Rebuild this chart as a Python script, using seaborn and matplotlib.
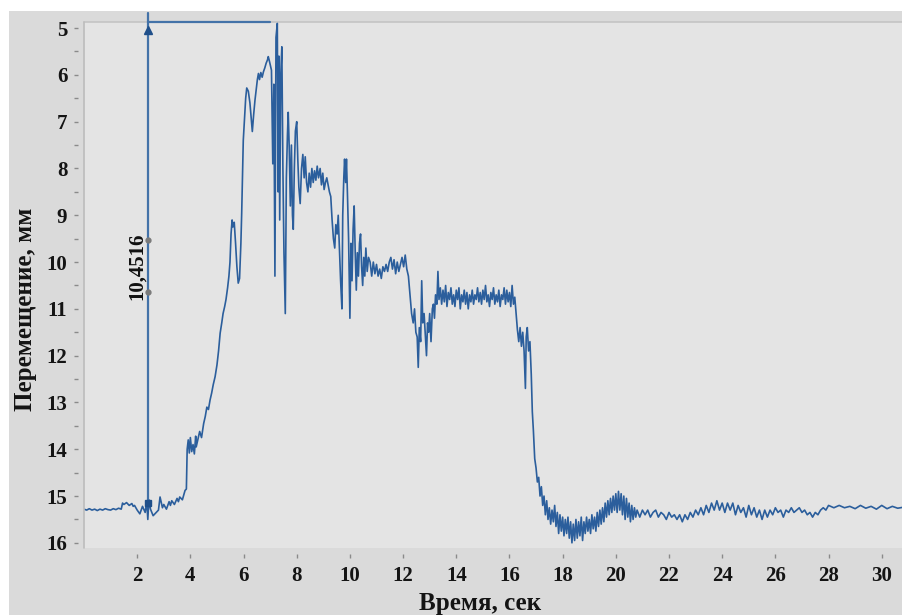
import numpy as np
import pandas as pd
import matplotlib
matplotlib.use('Agg')
import matplotlib.pyplot as plt
from matplotlib.patches import Rectangle
from matplotlib.ticker import MultipleLocator
import seaborn as sns

# --- data (time in s, displacement in mm) ---
t_base = [0.0, 0.1, 0.2, 0.3, 0.4, 0.5, 0.6, 0.7, 0.8, 0.9, 1.0, 1.1, 1.2, 1.3, 1.4,
          1.45, 1.5, 1.6, 1.7, 1.8, 1.85, 1.9, 2.0, 2.1, 2.2, 2.3, 2.36, 2.4, 2.44, 2.5,
          2.6, 2.7, 2.8, 2.86, 2.95, 3.0, 3.1, 3.2, 3.25, 3.3, 3.4, 3.5, 3.55, 3.6, 3.7, 3.8, 3.85]
y_base = [15.28, 15.3, 15.27, 15.3, 15.28, 15.31, 15.28, 15.3, 15.27, 15.29, 15.3, 15.27, 15.29, 15.26, 15.28,
          15.15, 15.18, 15.14, 15.2, 15.16, 15.22, 15.2, 15.3, 15.38, 15.22, 15.35, 15.12, 15.5, 15.08, 15.28,
          15.42, 15.36, 15.3, 15.02, 15.25, 15.18, 15.28, 15.12, 15.2, 15.1, 15.18, 15.05, 15.12, 15.02, 15.08, 14.88, 14.85]

t_rise = [3.88, 3.92, 3.96, 4.0, 4.05, 4.1, 4.15, 4.2, 4.22, 4.28, 4.35, 4.42, 4.5, 4.56, 4.62,
          4.68, 4.74, 4.8, 4.86, 4.93, 5.0, 5.06, 5.12, 5.18, 5.23, 5.29, 5.34, 5.4, 5.45, 5.49,
          5.53, 5.57, 5.6, 5.65, 5.7, 5.75, 5.8, 5.85, 5.9, 5.93, 5.96, 5.99, 6.04, 6.08, 6.12,
          6.18, 6.24, 6.29, 6.33, 6.38, 6.43, 6.48, 6.52, 6.56, 6.6, 6.65, 6.7, 6.75, 6.8, 6.85,
          6.9, 6.93, 6.97, 7.02]
y_rise = [14.0, 13.8, 14.08, 13.75, 14.05, 13.9, 14.1, 13.72, 13.95, 13.8, 13.62, 13.75, 13.45, 13.3, 13.1,
          13.15, 12.95, 12.8, 12.62, 12.45, 12.2, 11.9, 11.52, 11.3, 11.1, 10.95, 10.8, 10.55, 10.3, 10.0,
          9.4, 9.1, 9.25, 9.15, 9.6, 10.1, 10.45, 10.35, 9.6, 8.96, 8.2, 7.4, 6.9, 6.5, 6.28,
          6.35, 6.6, 6.95, 7.21, 6.85, 6.54, 6.3, 6.1, 5.97, 6.1, 5.95, 6.05, 5.93, 5.85, 5.75,
          5.68, 5.61, 5.7, 5.83]

t_osc = [7.05, 7.1, 7.14, 7.18, 7.22, 7.27, 7.3, 7.33, 7.36, 7.4, 7.44, 7.48, 7.52, 7.57, 7.61,
         7.65, 7.68, 7.72, 7.76, 7.8, 7.84, 7.87, 7.91, 7.95, 8.0, 8.04, 8.08, 8.13, 8.18, 8.23,
         8.28, 8.32, 8.37, 8.42, 8.47, 8.52, 8.57, 8.62, 8.67, 8.72, 8.77, 8.82, 8.88, 8.93, 8.98,
         9.03, 9.08, 9.13, 9.18, 9.23, 9.28, 9.33, 9.38, 9.43, 9.47, 9.52, 9.56, 9.6, 9.65, 9.7,
         9.73, 9.77, 9.8, 9.84, 9.87, 9.91, 9.95, 10.0, 10.04, 10.08, 10.12, 10.16, 10.2, 10.24, 10.28,
         10.32, 10.36, 10.4, 10.44, 10.48, 10.52, 10.56, 10.6, 10.65, 10.7, 10.76]
y_osc = [5.9, 7.9, 6.2, 10.3, 5.2, 4.9, 8.5, 5.6, 9.1, 6.0, 5.4, 8.0, 9.8, 11.1, 8.2,
         7.3, 6.8, 7.6, 8.8, 7.5, 9.0, 9.3, 8.0, 7.2, 7.0, 7.8, 8.4, 8.75, 8.0, 7.7,
         8.2, 7.75, 8.3, 8.5, 8.1, 8.4, 8.0, 8.3, 8.05, 8.25, 7.95, 8.2, 8.0, 8.35, 8.1,
         8.45, 8.3, 8.2, 8.35, 8.5, 8.6, 9.1, 9.5, 9.7, 9.2, 9.4, 9.0, 9.6, 10.4, 11.0,
         9.0, 8.2, 7.8, 8.3, 7.8, 8.6, 9.5, 11.2, 9.6, 10.4, 9.3, 8.8, 9.8, 10.6, 9.8,
         10.3, 9.6, 9.4, 10.1, 10.5, 9.9, 10.3, 9.7, 10.2, 9.9, 10.0]

t_step = [10.82, 10.88, 10.94, 11.0, 11.06, 11.12, 11.18, 11.24, 11.3, 11.36, 11.42, 11.48, 11.54, 11.6, 11.66,
          11.72, 11.78, 11.84, 11.9, 11.96, 12.02, 12.08, 12.14, 12.2, 12.26, 12.32, 12.38, 12.43, 12.48, 12.53,
          12.57, 12.61, 12.66, 12.7, 12.74, 12.79, 12.84, 12.88, 12.92, 12.96, 13.0, 13.05, 13.1, 13.14, 13.18,
          13.22, 13.27, 13.31, 13.35]
y_step = [10.3, 10.0, 10.25, 10.05, 10.3, 10.15, 10.35, 10.1, 10.2, 10.05, 10.2, 10.0, 9.9, 10.15, 9.95,
          10.25, 10.0, 10.2, 10.05, 9.9, 10.1, 9.85, 10.15, 10.3, 10.7, 11.1, 11.3, 11.0, 11.5, 11.6,
          12.25, 11.4, 11.7, 10.4, 11.3, 11.1, 11.6, 12.0, 11.3, 11.5, 11.1, 11.7, 11.0, 10.9, 11.2,
          10.7, 10.9, 10.2, 10.8]

t_plat = [13.4, 13.45, 13.5, 13.55, 13.6, 13.65, 13.7, 13.75, 13.8, 13.85, 13.9, 13.95, 14.0, 14.05, 14.1,
          14.15, 14.2, 14.25, 14.3, 14.35, 14.4, 14.45, 14.5, 14.55, 14.6, 14.65, 14.7, 14.75, 14.8, 14.85,
          14.9, 14.95, 15.0, 15.05, 15.1, 15.15, 15.2, 15.25, 15.3, 15.35, 15.4, 15.45, 15.5, 15.55, 15.6,
          15.65, 15.7, 15.75, 15.8, 15.85, 15.9, 15.95, 16.0, 16.05, 16.1, 16.15, 16.2]
y_plat = [10.55, 10.9, 10.6, 10.85, 10.5, 10.95, 10.65, 10.8, 10.55, 10.9, 10.7, 10.95, 10.6, 10.8, 10.55,
          11.0, 10.7, 10.85, 10.6, 10.9, 10.65, 11.0, 10.7, 10.85, 10.6, 10.9, 10.7, 10.8, 10.55, 10.85,
          10.65, 10.9, 10.6, 10.8, 10.5, 10.85, 10.7, 10.95, 10.65, 10.8, 10.55, 10.9, 10.7, 10.85, 10.6,
          10.95, 10.7, 10.8, 10.55, 10.9, 10.6, 10.85, 10.65, 10.95, 10.5, 10.9, 10.75]

t_drop = [16.25, 16.3, 16.35, 16.4, 16.45, 16.5, 16.55, 16.6, 16.63, 16.67, 16.72, 16.77, 16.82, 16.86, 16.9,
          16.95, 17.0, 17.05, 17.1, 17.15, 17.2, 17.25, 17.3]
y_drop = [11.1, 11.45, 11.7, 11.4, 11.8, 11.5, 11.9, 12.7, 11.6, 11.4, 11.9, 11.7, 12.4, 13.2, 13.6,
          14.2, 14.4, 14.7, 14.6, 15.0, 14.8, 15.2, 15.0]

t_ring = [17.35, 17.4, 17.45, 17.5, 17.55, 17.6, 17.65, 17.7, 17.75, 17.8, 17.85, 17.9, 17.95, 18.0, 18.05,
          18.1, 18.15, 18.2, 18.25, 18.3, 18.35, 18.4, 18.45, 18.5, 18.55, 18.6, 18.65, 18.7, 18.75, 18.8,
          18.85, 18.9, 18.95, 19.0, 19.05, 19.1, 19.15, 19.2, 19.25, 19.3, 19.35, 19.4, 19.45, 19.5, 19.55,
          19.6, 19.65, 19.7, 19.75, 19.8, 19.85, 19.9, 19.95, 20.0, 20.05, 20.1, 20.15, 20.2, 20.25, 20.3,
          20.35, 20.4, 20.45, 20.5, 20.55, 20.6, 20.65, 20.7, 20.75, 20.8, 20.9, 21.0]
y_ring = [15.4, 15.1, 15.5, 15.25, 15.6, 15.3, 15.55, 15.2, 15.65, 15.35, 15.8, 15.4, 15.75, 15.45, 15.85,
          15.5, 15.8, 15.45, 15.9, 15.55, 16.0, 15.6, 15.95, 15.5, 15.9, 15.55, 15.85, 15.45, 15.95, 15.55,
          15.8, 15.45, 15.75, 15.5, 15.8, 15.4, 15.7, 15.45, 15.75, 15.35, 15.65, 15.3, 15.6, 15.25, 15.55,
          15.15, 15.45, 15.1, 15.4, 15.05, 15.35, 15.0, 15.3, 14.95, 15.35, 14.9, 15.3, 14.95, 15.4, 15.0,
          15.5, 15.05, 15.45, 15.15, 15.55, 15.2, 15.5, 15.25, 15.45, 15.3, 15.45, 15.3]

t_tail = [21.1, 21.2, 21.3, 21.4, 21.5, 21.6, 21.7, 21.8, 21.9, 22.0, 22.1, 22.2, 22.3, 22.4, 22.5,
          22.6, 22.7, 22.8, 22.9, 23.0, 23.1, 23.2, 23.3, 23.4, 23.5, 23.6, 23.7, 23.8, 23.9, 24.0,
          24.1, 24.2, 24.3, 24.4, 24.5, 24.6, 24.7, 24.8, 24.9, 25.0, 25.1, 25.2, 25.3, 25.4, 25.5,
          25.6, 25.7, 25.8, 25.9, 26.0, 26.1, 26.2, 26.3, 26.4, 26.5, 26.6, 26.7, 26.8, 26.9, 27.0,
          27.1, 27.2, 27.3, 27.4, 27.5, 27.6, 27.7, 27.8, 27.9, 28.0, 28.2, 28.4, 28.6, 28.8, 29.0,
          29.2, 29.4, 29.6, 29.8, 30.0, 30.2, 30.4, 30.6, 30.8]
y_tail = [15.4, 15.3, 15.45, 15.35, 15.3, 15.45, 15.35, 15.4, 15.5, 15.35, 15.45, 15.4, 15.5, 15.4, 15.55,
          15.4, 15.5, 15.35, 15.45, 15.3, 15.4, 15.25, 15.4, 15.2, 15.35, 15.15, 15.3, 15.1, 15.3, 15.15,
          15.35, 15.15, 15.3, 15.15, 15.4, 15.2, 15.35, 15.25, 15.45, 15.2, 15.4, 15.25, 15.45, 15.3, 15.5,
          15.3, 15.45, 15.3, 15.4, 15.25, 15.35, 15.3, 15.45, 15.3, 15.35, 15.25, 15.35, 15.3, 15.25, 15.35,
          15.3, 15.4, 15.35, 15.45, 15.35, 15.4, 15.3, 15.25, 15.3, 15.2, 15.25, 15.2, 15.25, 15.22, 15.27,
          15.2, 15.26, 15.22, 15.28, 15.2, 15.27, 15.22, 15.26, 15.24]

x_ticks = list(range(2, 31, 2))
y_ticks = list(range(5, 17))
meas_t = 2.4
meas_low = 15.15
meas_high = 4.87
meas_end_t = 7.0
meas_label = '10,4516'

df = pd.DataFrame({
    't': t_base + t_rise + t_osc + t_step + t_plat + t_drop + t_ring + t_tail,
    'y': y_base + y_rise + y_osc + y_step + y_plat + y_drop + y_ring + y_tail,
})

OUTER = '#dadada'
PANEL = '#e4e4e4'
LINE = '#2b5e9c'
ANNOT = '#4372a8'

sns.set_style('white', {'axes.facecolor': PANEL})
plt.rcParams['font.family'] = ['Liberation Serif', 'DejaVu Serif']

fig = plt.figure(figsize=(9.03, 6.15), dpi=100, facecolor='white')
fig.patches.append(Rectangle((9 / 903, 0), 1, 1 - 11 / 615, transform=fig.transFigure,
                             facecolor=OUTER, edgecolor='none', zorder=-10))
ax = fig.add_axes([84 / 903, 1 - 548 / 615, 1 - 84 / 903, 526 / 615])
ax.set_facecolor(PANEL)

sns.lineplot(data=df, x='t', y='y', sort=False, estimator=None, color=LINE, lw=1.2, ax=ax)

ax.set_xlim(0, 30.8)
ax.set_ylim(16.11, 4.87)

# measurement marker
ax.plot([meas_t, meas_t], [meas_low, 4.68], color=ANNOT, lw=1.6, clip_on=False, zorder=3)
ax.plot([meas_t, meas_end_t], [meas_high, meas_high], color=ANNOT, lw=1.6, clip_on=False, zorder=3)
ax.plot([meas_t], [5.05], marker='^', color='#1f4f8a', ms=6, zorder=4)
ax.plot([meas_t], [meas_low], marker='s', color='#1f4f8a', ms=4, zorder=4)
ax.plot([meas_t, meas_t], [9.53, 10.64], ls='none', marker='o', color='#7a7a7a', ms=3.5, zorder=4)
ax.text(1.98, 10.08, meas_label, rotation=90, ha='center', va='center', fontsize=15,
        fontweight='bold', color='#111111')

# ticks and spines
for s in ['top', 'right', 'left', 'bottom']:
    ax.spines[s].set_visible(False)
ax.spines['left'].set_position(('outward', 4))
ax.spines['bottom'].set_position(('outward', 4))
ax.plot([0, 0], [0, 1], transform=ax.transAxes, color='#bcbcbc', lw=1.2, clip_on=False)
ax.plot([0, 1], [1, 1], transform=ax.transAxes, color='#c4c4c4', lw=1.2, clip_on=False, zorder=1)

ax.set_xticks(x_ticks)
ax.set_yticks(y_ticks)
ax.yaxis.set_minor_locator(MultipleLocator(0.5))
ax.tick_params(axis='both', which='both', direction='out', color='#8a8a8a', width=1,
               labelsize=15, labelcolor='#141414')
ax.tick_params(axis='y', which='major', length=3, pad=5, left=True)
ax.tick_params(axis='y', which='minor', length=3, left=True)
ax.tick_params(axis='x', which='major', length=3, pad=6, bottom=True)
for lab in ax.get_xticklabels() + ax.get_yticklabels():
    lab.set_fontweight('bold')

ax.set_xlabel('Время, сек', fontsize=18, fontweight='bold', color='#141414')
ax.set_ylabel('Перемещение, мм', fontsize=18, fontweight='bold', color='#141414')
ax.xaxis.set_label_coords(0.4835, -0.083)
ax.yaxis.set_label_coords(-0.057, 0.454)

fig.savefig('out.png', dpi=100, facecolor='white')
